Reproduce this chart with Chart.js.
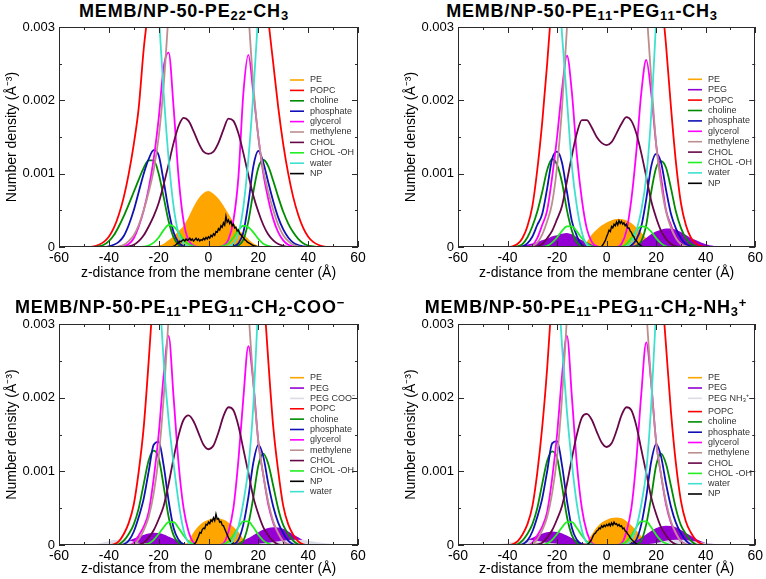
<!DOCTYPE html>
<html>
<head>
<meta charset="utf-8">
<script src="https://cdn.jsdelivr.net/npm/chart.js@4.4.0/dist/chart.umd.min.js"></script>
<style>
  body { margin: 0; background: #fff; }
  #wrap { position: relative; width: 766px; height: 579px; overflow: hidden; }
  .panel { position: absolute; width: 383px; height: 290px; }
  .panel canvas { position: absolute; left: 0; top: 0; }
  .ttl { position: absolute; width: 380px; text-align: center; white-space: nowrap; color: #000;
         font: bold 18px "Liberation Sans", Arial, Helvetica, sans-serif; line-height: 18px; letter-spacing: 0.8px; }
  .ttl sub { font-size: 0.72em; vertical-align: -0.22em; line-height: 0; }
  .ttl sup { font-size: 0.72em; vertical-align: 0.45em; line-height: 0; }
</style>
</head>
<body>
<div id="wrap">
  <div class="panel" style="left:0;top:0">
    <div class="ttl" style="left:-6px;top:2px">MEMB/NP-50-PE<sub>22</sub>-CH<sub>3</sub></div>
    <canvas id="c1" width="383" height="290"></canvas>
  </div>
  <div class="panel" style="left:383px;top:0">
    <div class="ttl" style="left:9px;top:2px">MEMB/NP-50-PE<sub>11</sub>-PEG<sub>11</sub>-CH<sub>3</sub></div>
    <canvas id="c2" width="383" height="290"></canvas>
  </div>
  <div class="panel" style="left:0;top:289px">
    <div class="ttl" style="left:-10px;top:9px">MEMB/NP-50-PE<sub>11</sub>-PEG<sub>11</sub>-CH<sub>2</sub>-COO<sup>−</sup></div>
    <canvas id="c3" width="383" height="290"></canvas>
  </div>
  <div class="panel" style="left:383px;top:289px">
    <div class="ttl" style="left:13px;top:9px">MEMB/NP-50-PE<sub>11</sub>-PEG<sub>11</sub>-CH<sub>2</sub>-NH<sub>3</sub><sup>+</sup></div>
    <canvas id="c4" width="383" height="290"></canvas>
  </div>
</div>
<script>
// z positions (Å) of the sampled profiles
const Z = [-50,-48,-46,-44,-42,-40,-38,-36,-34,-32,
  -30,-28,-26,-24,-22,-20,-18,-16,-14,-12,
  -10,-8,-6,-4,-2,0,2,4,6,8,
  10,12,14,16,18,20,22,24,26,28,
  30,32,34,36,38,40,42,44,46,48,50];
// finer grid for the noisy NP profile
const ZF = [-16,-15.5,-15,-14.5,-14,-13.5,-13,-12.5,-12,-11.5,
  -11,-10.5,-10,-9.5,-9,-8.5,-8,-7.5,-7,-6.5,
  -6,-5.5,-5,-4.5,-4,-3.5,-3,-2.5,-2,-1.5,
  -1,-0.5,0,0.5,1,1.5,2,2.5,3,3.5,
  4,4.5,5,5.5,6,6.5,7,7.5,8,8.5,
  9,9.5,10,10.5,11,11.5,12,12.5,13,13.5,
  14,14.5,15,15.5,16,16.5,17,17.5,18,18.5,
  19,19.5,20,20.5,21,21.5,22];

const X_TICKS = [-60, -40, -20, 0, 20, 40, 60];
const Y_TICKS = ['0', '0.001', '0.002', '0.003'];   // densities below are in 1e-4 Å^-3
const X_TITLE = 'z-distance from the membrane center (Å)';
const Y_TITLE = 'Number density (Å⁻³)';

// ---- panel 1: PE22-CH3 ----
const p1PE = [0,0,0,0,0,0,0,0,0,0,
  0,0,0,0,0,0.1,0.3,0.8,1.3,2,
  2.7,3.8,5.2,6.4,7.2,7.5,7.1,6.4,5.4,4.3,
  3.1,2.2,1.6,0.9,0.35,0.05,0,0,0,0,
  0,0,0,0,0,0,0,0,0,0,0];
const p1POPC = [0,0,0.1,0.3,0.7,1.4,2.6,4.4,6.8,10,
  14,19,27,33,40,46,55,55,55,55,
  55,55,55,55,55,55,55,55,55,55,
  55,55,55,55,55,46,38,31,25,19,
  14,10,6.8,4.4,2.6,1.4,0.7,0.3,0.1,0,0];
const p1Choline = [0,0,0,0.1,0.3,0.8,1.6,2.8,4.2,5.8,
  7.5,9.2,10.8,11.8,11.8,10,6.8,3.5,1.3,0.3,
  0,0,0,0,0,0,0,0,0,0,
  0,0.2,1,3.5,7.5,10.8,11.9,11,9,6.8,
  4.8,3.2,2,1.1,0.5,0.2,0.1,0,0,0,0];
const p1Phos = [0,0,0,0,0,0.1,0.3,0.7,1.5,3,
  5,7.5,10,12,13.2,12.5,9,5,2,0.6,
  0.1,0,0,0,0,0,0,0,0,0,
  0.1,0.5,2,6,11,13.1,11.5,8.8,6.2,4,
  2.4,1.3,0.6,0.25,0.1,0,0,0,0,0,0];
const p1Gly = [0,0,0,0,0,0,0,0,0.1,0.4,
  1.2,2.8,5,8,12,17.5,24.5,26.5,19,9.5,
  3.5,0.9,0.2,0,0,0,0,0,0.2,1,
  3.6,9.5,21,26.2,21,15,10,6.5,3.8,2,
  0.9,0.3,0.1,0,0,0,0,0,0,0,0];
const p1Meth = [0,0,0,0,0,0,0,0.1,0.3,0.8,
  1.6,3,5,7.5,10.5,15,22,32,42,50,
  50,50,50,50,50,50,50,50,50,50,
  50,50,42,32,22,15,10.5,7.5,5,3,
  1.6,0.8,0.3,0.1,0,0,0,0,0,0,0];
const p1Chol = [0,0,0,0,0,0,0,0,0,0.1,
  0.3,0.8,1.6,2.8,4.2,6,8.5,11.3,14.2,16.5,
  17.6,17.2,15.8,14.2,13,12.7,13,14.2,16,17.5,
  17.2,15.5,12.8,9.8,7,4.8,3,1.7,0.9,0.4,
  0.15,0,0,0,0,0,0,0,0,0,0];
const p1CholOH = [0,0,0,0,0,0,0,0,0,0,
  0,0,0.05,0.2,0.6,1.3,2.3,3,2.8,2,
  1,0.4,0.1,0,0,0,0,0,0.15,0.5,
  1.3,2.3,2.9,2.7,2,1.1,0.45,0.15,0,0,
  0,0,0,0,0,0,0,0,0,0,0];
const p1Water = [60,60,60,60,60,60,60,60,60,60,
  60,60,60,60,45,32,21,12,5.5,1.8,
  0.5,0.1,0,0,0,0,0,0,0,0.1,
  0.5,1.8,5.5,12,21,32,45,60,60,60,
  60,60,60,60,60,60,60,60,60,60,60];
const p1NP = [0,0,0,0.05,0.1,0.2,0.35,0.5,0.6,0.8,
  0.7,0.9,1.0,0.8,1.1,0.9,1.0,1.2,0.9,1.1,
  0.8,1.0,1.2,0.9,1.1,0.8,1.0,0.9,1.2,1.0,
  1.3,1.1,1.4,1.2,1.6,1.4,1.8,1.6,2.1,2.0,
  2.5,2.3,2.9,2.7,3.3,3.0,4.2,3.4,3.7,3.2,
  3.5,2.9,3.1,2.6,2.7,2.2,2.3,1.8,1.7,1.4,
  1.3,1.0,0.9,0.7,0.6,0.5,0.4,0.3,0.2,0.15,
  0.1,0.05,0,0,0,0,0];

// ---- panel 2: PE11-PEG11-CH3 ----
const p2PE = [0,0,0,0,0,0,0,0,0,0,
  0,0,0,0,0,0,0,0,0,0,
  0,0.5,1.5,2.2,2.8,3.2,3.5,3.7,3.7,3.5,
  3.1,2.5,1.8,1,0.3,0,0,0,0,0,
  0,0,0,0,0,0,0,0,0,0,0];
const p2PEG = [0,0,0,0,0,0,0,0,0.05,0.2,
  0.35,0.5,0.8,1,1.3,1.5,1.7,1.8,1.6,1.2,
  0.8,0.5,0.2,0.05,0,0,0,0,0,0,
  0.05,0.2,0.6,1.1,1.6,2,2.25,2.4,2.4,2.2,
  1.9,1.5,1.1,0.8,0.5,0.25,0.1,0,0,0,0];
const p2POPC = [0,0,0,0,0,0,0.1,0.4,1.2,2.8,
  5.5,10.5,17,25,34,45,55,55,55,55,
  55,55,55,55,55,55,55,55,55,55,
  55,55,55,55,55,45,35,27.5,19,11.5,
  6,3,1.3,0.5,0.15,0,0,0,0,0,0];
const p2Choline = [0,0,0,0,0,0,0,0.1,0.4,1.3,
  2.8,4.8,7.5,10.5,12,11.2,8.8,5,2.2,0.6,
  0.1,0,0,0,0,0,0,0,0,0,
  0,0.1,0.8,3,7.5,10.8,11.7,10.8,8,4.8,
  2.6,1.2,0.4,0.1,0,0,0,0,0,0,0];
const p2Phos = [0,0,0,0,0,0,0,0,0.1,0.5,
  1.4,3,4.5,8,12,13,11.5,7.5,3.5,1.5,
  0.3,0,0,0,0,0,0,0,0,0,
  0.2,1,2.8,6.5,11,12.7,11.5,7.8,4.5,2.5,
  1.2,0.4,0.1,0,0,0,0,0,0,0,0];
const p2Gly = [0,0,0,0,0,0,0,0,0,0,
  0.2,1.2,3,5,9.5,15,21.5,26.1,21,12.5,
  6.5,2.5,0.7,0.1,0,0,0,0,0.4,2.2,
  6.5,13,21,25.5,21,14,9.5,5,3,1.2,
  0.3,0,0,0,0,0,0,0,0,0,0];
const p2Meth = [0,0,0,0,0,0,0,0,0,0,
  0.1,0.6,1.7,3.5,6,11,19,30,42,50,
  50,50,50,50,50,50,50,50,50,50,
  50,50,42,33,23,14,8.5,4.8,2.6,1.2,
  0.4,0.1,0,0,0,0,0,0,0,0,0];
const p2Chol = [0,0,0,0,0,0,0,0,0,0,
  0,0.1,0.4,1.2,2.2,3.8,5.6,9,12.5,15.5,
  17.3,17.3,16.3,15,14.2,13.9,14.3,15.5,16.8,17.7,
  17.2,15.5,12.8,9.6,6.3,4,2.2,1.1,0.4,0.1,
  0,0,0,0,0,0,0,0,0,0,0];
const p2CholOH = [0,0,0,0,0,0,0,0,0,0,
  0,0,0,0.15,0.6,1.3,2.2,2.8,2.8,2.1,
  1.2,0.5,0.1,0,0,0,0,0,0.05,0.4,
  1.2,2.2,2.8,2.7,2.1,1.2,0.5,0.1,0,0,
  0,0,0,0,0,0,0,0,0,0,0];
const p2Water = [60,60,60,60,60,60,60,60,60,60,
  60,60,60,60,55,40,29,20,11,5.5,
  2,0.3,0,0,0,0,0,0,0,0.1,
  0.6,2.2,5,9.5,18,31,45,60,60,60,
  60,60,60,60,60,60,60,60,60,60,60];
const p2NP = [0,0,0,0,0,0,0,0,0,0,
  0,0,0,0,0,0,0,0,0,0,
  0,0,0,0,0,0,0,0,0.1,0.3,
  0.6,0.9,1.4,1.8,2.3,2.1,2.8,2.6,3.1,2.9,
  3.4,3.0,3.6,3.2,3.5,3.1,3.3,2.9,3.1,2.6,
  2.6,2.2,2.0,1.6,1.4,1.0,0.9,0.6,0.4,0.3,
  0.15,0.05,0,0,0,0,0,0,0,0,
  0,0,0,0,0,0,0];

// ---- panel 3: PE11-PEG11-CH2-COO- ----
const p3PE = [0,0,0,0,0,0,0,0,0,0,
  0,0,0,0,0,0,0,0,0,0,
  0,0.3,1.5,2.4,3,3.3,3.5,3.5,3.3,2.9,
  2.3,1.6,0.6,0.1,0,0,0,0,0,0,
  0,0,0,0,0,0,0,0,0,0,0];
const p3PEG = [0,0,0,0,0,0,0,0.05,0.2,0.45,
  0.75,1,1.25,1.45,1.55,1.5,1.3,1,0.7,0.35,
  0.1,0,0,0,0,0,0,0,0,0,
  0.05,0.2,0.45,0.8,1.2,1.6,1.95,2.2,2.3,2.25,
  2.05,1.7,1.3,0.9,0.5,0.2,0.05,0,0,0,0];
const p3End = [0,0,0,0.1,0.25,0.4,0.55,0.6,0.6,0.5,
  0.35,0.2,0.1,0.05,0,0,0,0,0,0,
  0,0,0,0,0,0,0,0,0,0,
  0,0,0,0,0,0.05,0.1,0.2,0.3,0.4,
  0.5,0.55,0.6,0.6,0.55,0.45,0.35,0.25,0.15,0.08,0.03];
const p3POPC = [0,0,0,0,0,0,0.1,0.5,1.5,3,
  5.5,10,16,25,35,45,55,55,55,55,
  55,55,55,55,55,55,55,55,55,55,
  55,55,55,55,55,45,35,25,16,10,
  5.3,2.8,1.4,0.5,0.1,0,0,0,0,0,0];
const p3Choline = [0,0,0,0,0,0,0,0.1,0.6,1.5,
  2.8,5,8.3,11.5,12.8,11.8,8,3.8,1.3,0.3,
  0,0,0,0,0,0,0,0,0,0,
  0,0.1,0.6,2.8,6.5,10.8,12.4,11,8,4.9,
  2.7,1.5,0.6,0.1,0,0,0,0,0,0,0];
const p3Phos = [0,0,0,0,0,0,0,0,0.1,0.6,
  1.8,3.8,6.3,10,13.6,14,10.8,6,2.3,0.7,
  0.1,0,0,0,0,0,0,0,0,0,
  0.1,0.7,2.8,6.5,11.2,13.6,12,8.3,5.2,3,
  1.6,0.6,0.1,0,0,0,0,0,0,0,0];
const p3Gly = [0,0,0,0,0,0,0,0,0,0,
  0.3,1.3,2.5,4.5,9,15,23,28.4,20,11,
  5,1.8,0.3,0,0,0,0,0,0.2,1.8,
  5,11.5,20,27,22,14,9.5,5.5,3,1.5,
  0.5,0.1,0,0,0,0,0,0,0,0,0];
const p3Meth = [0,0,0,0,0,0,0,0,0,0,
  0.1,0.8,2,3.8,7,12,20,31,42,50,
  50,50,50,50,50,50,50,50,50,50,
  50,50,42,32,22,14,9.5,5.8,3.2,1.6,
  0.5,0.1,0,0,0,0,0,0,0,0,0];
const p3Chol = [0,0,0,0,0,0,0,0,0,0,
  0,0.1,0.3,1,2,3.5,5.3,8.3,11.8,14.9,
  17,17.6,16.8,15.2,13.6,13,13.5,15.3,17.5,18.7,
  18.3,16.2,13,9.8,6.5,4.2,2.4,1.3,0.5,0.1,
  0,0,0,0,0,0,0,0,0,0,0];
const p3CholOH = [0,0,0,0,0,0,0,0,0,0,
  0,0,0,0.2,0.7,1.5,2.4,3.1,3.1,2.3,
  1.3,0.5,0.1,0,0,0,0,0,0.1,0.5,
  1.3,2.4,3.2,3.2,2.4,1.4,0.6,0.2,0,0,
  0,0,0,0,0,0,0,0,0,0,0];
const p3Water = [60,60,60,60,60,60,60,60,60,60,
  60,60,60,60,50,36,25,17,11,5.8,
  2,0.3,0,0,0,0,0,0,0,0.1,
  0.7,2.5,5.8,10.5,19,33,45,60,60,60,
  60,60,60,60,60,60,60,60,60,60,60];
const p3NP = [0,0,0,0,0,0,0,0,0,0,
  0,0,0,0,0,0,0,0,0,0,
  0.05,0.2,0.4,0.8,1.2,1.7,1.6,2.1,2.3,2.2,
  2.8,2.7,3.1,2.9,3.4,3.2,3.7,3.3,4.2,3.5,
  3.6,3.1,3.2,2.7,2.6,2.2,1.8,1.4,1.0,0.7,
  0.4,0.2,0.05,0,0,0,0,0,0,0,
  0,0,0,0,0,0,0,0,0,0,
  0,0,0,0,0,0,0];

// ---- panel 4: PE11-PEG11-CH2-NH3+ ----
const p4PE = [0,0,0,0,0,0,0,0,0,0,
  0,0,0,0,0,0,0,0,0,0,
  0,0.2,1.2,2.2,2.9,3.3,3.55,3.6,3.5,3.1,
  2.5,1.8,1,0.3,0,0,0,0,0,0,
  0,0,0,0,0,0,0,0,0,0,0];
const p4PEG = [0,0,0,0,0,0,0,0.1,0.3,0.55,
  0.85,1.15,1.4,1.6,1.7,1.65,1.45,1.15,0.8,0.45,
  0.15,0.02,0,0,0,0,0,0,0,0.05,
  0.2,0.45,0.85,1.3,1.75,2.15,2.4,2.5,2.45,2.25,
  1.9,1.5,1.1,0.7,0.4,0.15,0.05,0,0,0,0];
const p4End = [0,0,0,0,0.05,0.15,0.3,0.45,0.55,0.6,
  0.55,0.45,0.3,0.2,0.1,0.05,0,0,0,0,
  0,0,0,0,0,0,0,0,0,0,
  0,0,0,0,0.05,0.15,0.3,0.45,0.55,0.6,
  0.6,0.55,0.45,0.35,0.25,0.15,0.08,0.03,0,0,0];
const p4POPC = [0,0,0,0,0,0,0.1,0.5,1.4,2.8,
  5.2,9.8,16,24,34,45,55,55,55,55,
  55,55,55,55,55,55,55,55,55,55,
  55,55,55,55,55,45,36,27,18,11,
  6,3.2,1.7,0.7,0.2,0,0,0,0,0,0];
const p4Choline = [0,0,0,0,0,0,0,0.1,0.6,1.5,
  2.8,5,8.3,11.4,12.7,11.8,8,3.8,1.3,0.3,
  0,0,0,0,0,0,0,0,0,0,
  0,0.1,0.6,2.8,6.5,10.8,12.4,11,8,4.9,
  2.7,1.5,0.6,0.1,0,0,0,0,0,0,0];
const p4Phos = [0,0,0,0,0,0,0,0,0.1,0.6,
  1.8,3.8,6.3,10,13.8,14.1,10.8,6,2.3,0.7,
  0.1,0,0,0,0,0,0,0,0,0,
  0.1,0.7,2.8,6.5,11.3,13.7,12,8.3,5.2,3,
  1.6,0.6,0.1,0,0,0,0,0,0,0,0];
const p4Gly = [0,0,0,0,0,0,0,0,0,0,
  0.3,1.3,2.5,4.5,9,15,23,28.4,20,11,
  5,1.8,0.3,0,0,0,0,0,0.2,1.8,
  5,11.5,20.5,27.5,22,14,9.5,5.5,3,1.5,
  0.5,0.1,0,0,0,0,0,0,0,0,0];
const p4Meth = [0,0,0,0,0,0,0,0,0,0,
  0.1,0.8,2,3.8,7,12,20,31,42,50,
  50,50,50,50,50,50,50,50,50,50,
  50,50,42,32,22,14,9.5,5.8,3.2,1.6,
  0.5,0.1,0,0,0,0,0,0,0,0,0];
const p4Chol = [0,0,0,0,0,0,0,0,0,0,
  0,0.1,0.3,1,2,3.5,5.3,8.3,11.8,15,
  17.3,17.8,17,15.4,13.9,13.3,13.8,15.5,17.6,18.7,
  18.3,16.2,13,9.8,6.5,4.2,2.4,1.3,0.5,0.1,
  0,0,0,0,0,0,0,0,0,0,0];
const p4CholOH = [0,0,0,0,0,0,0,0,0,0,
  0,0,0,0.2,0.7,1.5,2.4,3.1,3.1,2.3,
  1.3,0.5,0.1,0,0,0,0,0,0.1,0.5,
  1.3,2.4,3.2,3.2,2.4,1.4,0.6,0.2,0,0,
  0,0,0,0,0,0,0,0,0,0,0];
const p4Water = [60,60,60,60,60,60,60,60,60,60,
  60,60,60,60,50,38,27,18,11,5.5,
  2,0.3,0,0,0,0,0,0,0,0.1,
  0.7,2.4,5.5,10,19,32,45,60,60,60,
  60,60,60,60,60,60,60,60,60,60,60];
const p4NP = [0,0,0,0,0,0,0,0,0,0,
  0,0,0,0,0,0,0.05,0.15,0.3,0.5,
  0.8,1.2,1.5,1.6,1.9,2.0,2.3,2.2,2.6,2.4,
  2.7,2.5,2.8,2.6,2.9,2.6,3.0,2.7,3.1,2.8,
  2.9,2.6,2.8,2.5,2.6,2.2,2.3,1.9,1.8,1.5,
  1.3,1.0,0.8,0.6,0.45,0.3,0.15,0.05,0,0,
  0,0,0,0,0,0,0,0,0,0,
  0,0,0,0,0,0,0];

const COLORS = {
  PE: '#ffa500', PEG: '#9400d3', END: '#dcdce8', POPC: '#ff0000',
  choline: '#008b00', phosphate: '#1010b4', glycerol: '#ff00ff',
  methylene: '#bc8f8f', CHOL: '#670748', CHOLOH: '#22ee22',
  water: '#40e0d0', NP: '#000000'
};
const FONT = '"Liberation Sans", Arial, Helvetica, sans-serif';

const PANELS = [
  { id: 'c1',
    series: [['PE','PE',p1PE],['POPC','POPC',p1POPC],['choline','choline',p1Choline],
      ['phosphate','phosphate',p1Phos],['glycerol','glycerol',p1Gly],['methylene','methylene',p1Meth],
      ['CHOL','CHOL',p1Chol],['CHOL -OH','CHOLOH',p1CholOH],['water','water',p1Water],['NP','NP',p1NP]],
    box: { padL: 0, yW: 59, padR: 25, padT: 27, xH: 43, xTitlePad: 8 },
    legend: { x: 290, y: 80, step: 10.4 } },
  { id: 'c2',
    series: [['PE','PE',p2PE],['PEG','PEG',p2PEG],['POPC','POPC',p2POPC],['choline','choline',p2Choline],
      ['phosphate','phosphate',p2Phos],['glycerol','glycerol',p2Gly],['methylene','methylene',p2Meth],
      ['CHOL','CHOL',p2Chol],['CHOL -OH','CHOLOH',p2CholOH],['water','water',p2Water],['NP','NP',p2NP]],
    box: { padL: 16, yW: 59, padR: 10, padT: 27, xH: 43, xTitlePad: 8 },
    legend: { x: 305, y: 79.3, step: 10.4 } },
  { id: 'c3',
    series: [['PE','PE',p3PE],['PEG','PEG',p3PEG],['PEG COO⁻','END',p3End],['POPC','POPC',p3POPC],
      ['choline','choline',p3Choline],['phosphate','phosphate',p3Phos],['glycerol','glycerol',p3Gly],
      ['methylene','methylene',p3Meth],['CHOL','CHOL',p3Chol],['CHOL -OH','CHOLOH',p3CholOH],
      ['NP','NP',p3NP],['water','water',p3Water]],
    box: { padL: 0, yW: 59, padR: 25, padT: 35, xH: 34, xTitlePad: 1.5 },
    legend: { x: 290, y: 88.7, step: 10.36 } },
  { id: 'c4',
    series: [['PE','PE',p4PE],['PEG','PEG',p4PEG],['PEG NH₃⁺','END',p4End],['POPC','POPC',p4POPC],
      ['choline','choline',p4Choline],['phosphate','phosphate',p4Phos],['glycerol','glycerol',p4Gly],
      ['methylene','methylene',p4Meth],['CHOL','CHOL',p4Chol],['CHOL -OH','CHOLOH',p4CholOH],
      ['water','water',p4Water],['NP','NP',p4NP]],
    box: { padL: 16, yW: 59, padR: 10, padT: 35, xH: 34, xTitlePad: 1.5 },
    legend: { x: 305, y: 88.7, step: 10.3, gapAfter: 2, gap: 3 } }
];

// legend drawn inside the plot, xmgrace style
const insideLegend = {
  id: 'insideLegend',
  afterDraw(chart, args, o) {
    const ctx = chart.ctx;
    ctx.save();
    ctx.font = '9px ' + FONT;
    ctx.textBaseline = 'middle';
    let y = o.y;
    chart.data.datasets.forEach((ds, i) => {
      ctx.strokeStyle = ds.borderColor;
      ctx.lineWidth = 1.6;
      ctx.beginPath();
      ctx.moveTo(o.x, y);
      ctx.lineTo(o.x + 14, y);
      ctx.stroke();
      ctx.fillStyle = '#333';
      ctx.fillText(ds.label, o.x + 20, y);
      y += o.step + (o.gapAfter === i ? o.gap : 0);
    });
    ctx.restore();
  }
};

// box frame with inward ticks on all four sides
const frameTicks = {
  id: 'frameTicks',
  afterDraw(chart) {
    const { ctx, chartArea: a, scales: { x, y } } = chart;
    ctx.save();
    ctx.strokeStyle = '#2a2a2a';
    ctx.lineWidth = 1;
    ctx.strokeRect(Math.round(a.left) + 0.5, Math.round(a.top) + 0.5,
      Math.round(a.width) - 1, Math.round(a.height) - 1);
    ctx.beginPath();
    for (let v = -60; v <= 60; v += 10) {
      const px = Math.round(x.getPixelForValue(v)) + 0.5;
      const len = v % 20 === 0 ? 6 : 3;
      ctx.moveTo(px, a.bottom); ctx.lineTo(px, a.bottom - len);
      ctx.moveTo(px, a.top); ctx.lineTo(px, a.top + len);
    }
    for (let v = 0; v <= 30; v += 5) {
      const py = Math.round(y.getPixelForValue(v)) + 0.5;
      const len = v % 10 === 0 ? 6 : 3;
      ctx.moveTo(a.left, py); ctx.lineTo(a.left + len, py);
      ctx.moveTo(a.right, py); ctx.lineTo(a.right - len, py);
    }
    ctx.stroke();
    ctx.restore();
  }
};

function makeSet(label, key, vals, i, n) {
  const noisy = key === 'NP';
  const xs = noisy ? ZF : Z;
  const filled = key === 'PE' || key === 'PEG' || key === 'END';
  return {
    label: label,
    data: vals.map((v, j) => ({ x: xs[j], y: v })),
    borderColor: COLORS[key],
    backgroundColor: COLORS[key],
    borderWidth: noisy ? 1.4 : 1.8,
    fill: filled ? 'origin' : false,
    tension: noisy ? 0 : 0.4,
    cubicInterpolationMode: noisy ? 'default' : 'monotone',
    pointRadius: 0,
    order: n - i
  };
}

PANELS.forEach(P => {
  const n = P.series.length;
  const B = P.box;
  const datasets = P.series.map((s, i) => makeSet(s[0], s[1], s[2], i, n));
  new Chart(document.getElementById(P.id), {
    type: 'line',
    data: { datasets },
    options: {
      responsive: false,
      animation: false,
      events: [],
      layout: { padding: { left: B.padL, right: B.padR, top: B.padT, bottom: 0 } },
      plugins: { legend: { display: false }, tooltip: { enabled: false }, insideLegend: P.legend },
      scales: {
        x: {
          type: 'linear', min: -60, max: 60,
          afterFit: s => { s.height = B.xH; },
          grid: { display: false, drawTicks: false }, border: { display: false },
          ticks: { stepSize: 20, padding: 3, color: '#000', maxRotation: 0, autoSkip: false,
            font: { family: FONT, size: 14 },
            callback: v => X_TICKS.includes(v) ? String(v) : null },
          title: { display: true, text: X_TITLE, color: '#000', font: { family: FONT, size: 14 },
            padding: { top: 0, bottom: B.xTitlePad } }
        },
        y: {
          type: 'linear', min: 0, max: 30,
          afterFit: s => { s.width = B.yW; },
          grid: { display: false, drawTicks: false }, border: { display: false },
          ticks: { stepSize: 10, padding: 4, color: '#000', font: { family: FONT, size: 13 },
            callback: v => Y_TICKS[v / 10] },
          title: { display: true, text: Y_TITLE, color: '#000', font: { family: FONT, size: 14 },
            padding: { top: 4, bottom: 0 } }
        }
      }
    },
    plugins: [frameTicks, insideLegend]
  });
});
</script>
</body>
</html>
